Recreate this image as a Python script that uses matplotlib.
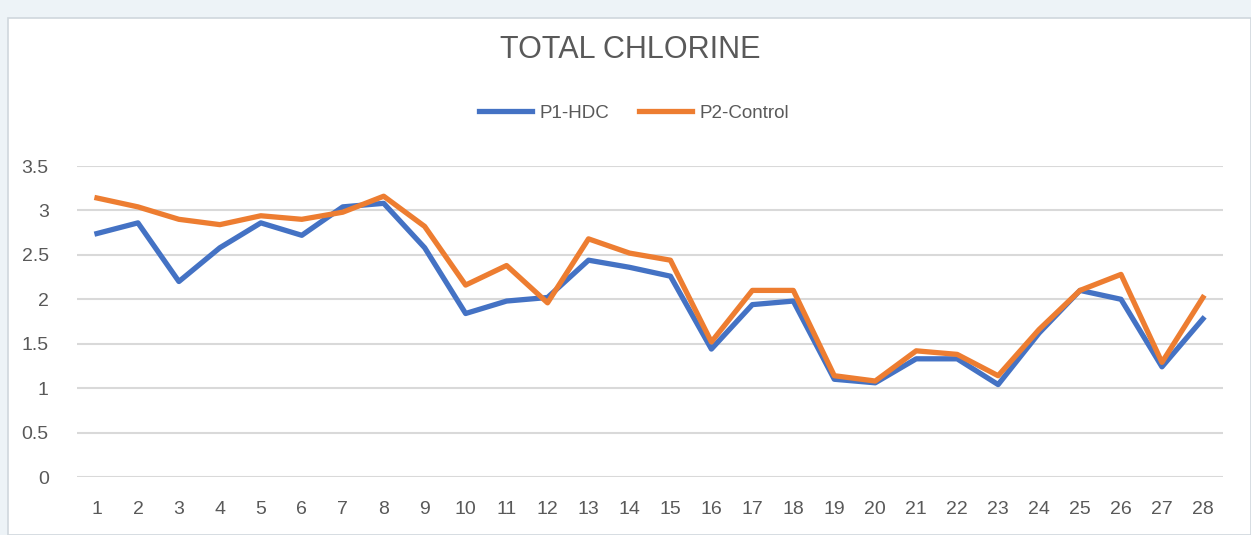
import matplotlib.pyplot as plt
from matplotlib.patches import Rectangle

# sample number (x axis)
days = list(range(1, 29))

# total chlorine readings
p1_hdc = [2.74, 2.86, 2.20, 2.58, 2.86, 2.72, 3.04, 3.08, 2.58, 1.84,
          1.98, 2.02, 2.44, 2.36, 2.26, 1.44, 1.94, 1.98, 1.10, 1.06,
          1.33, 1.33, 1.04, 1.62, 2.10, 2.00, 1.24, 1.78]
p2_control = [3.14, 3.04, 2.90, 2.84, 2.94, 2.90, 2.98, 3.16, 2.82, 2.16,
              2.38, 1.96, 2.68, 2.52, 2.44, 1.52, 2.10, 2.10, 1.14, 1.08,
              1.42, 1.38, 1.14, 1.66, 2.10, 2.28, 1.29, 2.02]

yticks = [0, 0.5, 1, 1.5, 2, 2.5, 3, 3.5]
ytick_labels = ["0", "0.5", "1", "1.5", "2", "2.5", "3", "3.5"]

plt.rcParams['font.family'] = ['Liberation Sans', 'DejaVu Sans']
TEXT = '#595959'

W, H = 1251, 535
fig = plt.figure(figsize=(W / 100, H / 100), dpi=100, facecolor='#edf3f7')

# white chart area with thin border, like the excel chart frame
fig.patches.append(Rectangle((8 / W, 0), 1 - 8 / W, 1 - 18 / H, transform=fig.transFigure,
                             facecolor='white', edgecolor='#d0d7dd', linewidth=1.2, zorder=-5))

ax = fig.add_axes([76.5 / W, (H - 477) / H, (1223.4 - 76.5) / W, 311 / H])
ax.set_facecolor('none')

ax.plot(days, p1_hdc, color='#4472C4', linewidth=3.8, label='P1-HDC', zorder=3)
ax.plot(days, p2_control, color='#ED7D31', linewidth=3.8, label='P2-Control', zorder=4)

ax.set_xlim(0.5, 28.5)
ax.set_ylim(0, 3.5)
ax.set_xticks(days)
ax.set_xticklabels([str(d) for d in days])
ax.set_yticks(yticks)
ax.set_yticklabels(ytick_labels)
ax.tick_params(length=0, labelsize=14, colors=TEXT)
ax.tick_params(axis='x', pad=17)
ax.tick_params(axis='y', pad=20)

ax.grid(axis='y', color='#d9d9d9', linewidth=1.5, zorder=0)
ax.set_axisbelow(True)
for s in ax.spines.values():
    s.set_visible(False)

fig.text(630 / W, 1 - 50 / H, 'TOTAL CHLORINE', ha='center', va='center', fontsize=22, color=TEXT)

handles, labels = ax.get_legend_handles_labels()
fig.legend(handles, labels, loc='center', bbox_to_anchor=(634 / W, 1 - 113 / H), ncol=2,
           frameon=False, fontsize=13.5, labelcolor=TEXT, handlelength=2.8,
           handletextpad=0.4, columnspacing=1.6)

fig.savefig('out.png', dpi=100, facecolor=fig.get_facecolor())
